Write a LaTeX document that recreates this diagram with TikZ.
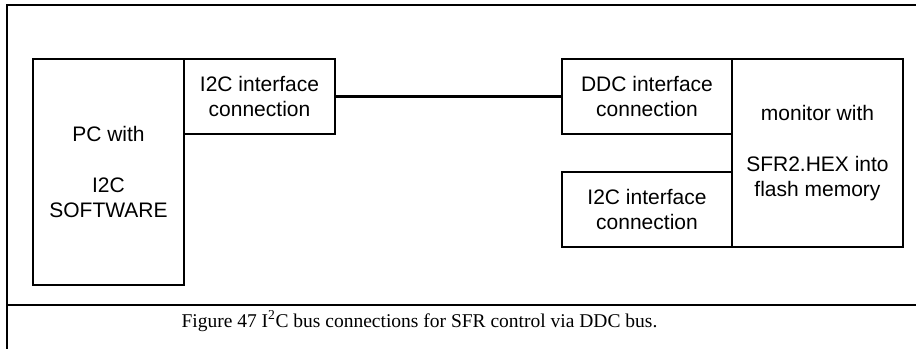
\documentclass[tikz,border=0pt]{standalone}
\usepackage{fontspec}
\setmainfont{Liberation Serif}
\setsansfont{Liberation Sans}
\begin{document}
\begin{tikzpicture}[x=1pt,y=-1pt,
  box/.style={draw=black, line width=1.3pt, inner sep=0pt, align=center,
    font=\sffamily\fontsize{21}{25.5}\selectfont},
  frame/.style={line width=1.5pt},
  bus/.style={line width=2.2pt}]
\useasboundingbox (0,0) rectangle (916,349);
% outer frame
\coordinate (ftl) at (7,5);
\coordinate (ftr) at (916,5);
\coordinate (fbl) at (7,349);
\coordinate (cl) at (7,305);
\coordinate (cr) at (916,305);
\draw[frame] (ftr) -- (ftl) -- (fbl);
\draw[frame] (cl) -- (cr);
% boxes
\node[box, minimum width=151, minimum height=226] (pc) at (108.5,172) {PC with\\[25.5pt]I2C\\SOFTWARE};
\node[box, minimum width=151, minimum height=75] (i2cl) at (259.5,96.5) {I2C interface\\connection};
\node[box, minimum width=170, minimum height=75] (ddc) at (647,96.5) {DDC interface\\connection};
\node[box, minimum width=170, minimum height=75] (i2cr) at (647,209.5) {I2C interface\\connection};
\node[box, minimum width=171, minimum height=188] (mon) at (817.5,153) {monitor with\\[25.5pt]SFR2.HEX into\\flash memory};
% bus connection
\draw[bus] (i2cl.east) -- (ddc.west);
% caption
\node[anchor=base, inner sep=0pt, font=\fontsize{19.5}{23}\selectfont] (cap) at (419.5,327) {Figure 47 I\textsuperscript{2}C bus connections for SFR control via DDC bus.};
\end{tikzpicture}
\end{document}
